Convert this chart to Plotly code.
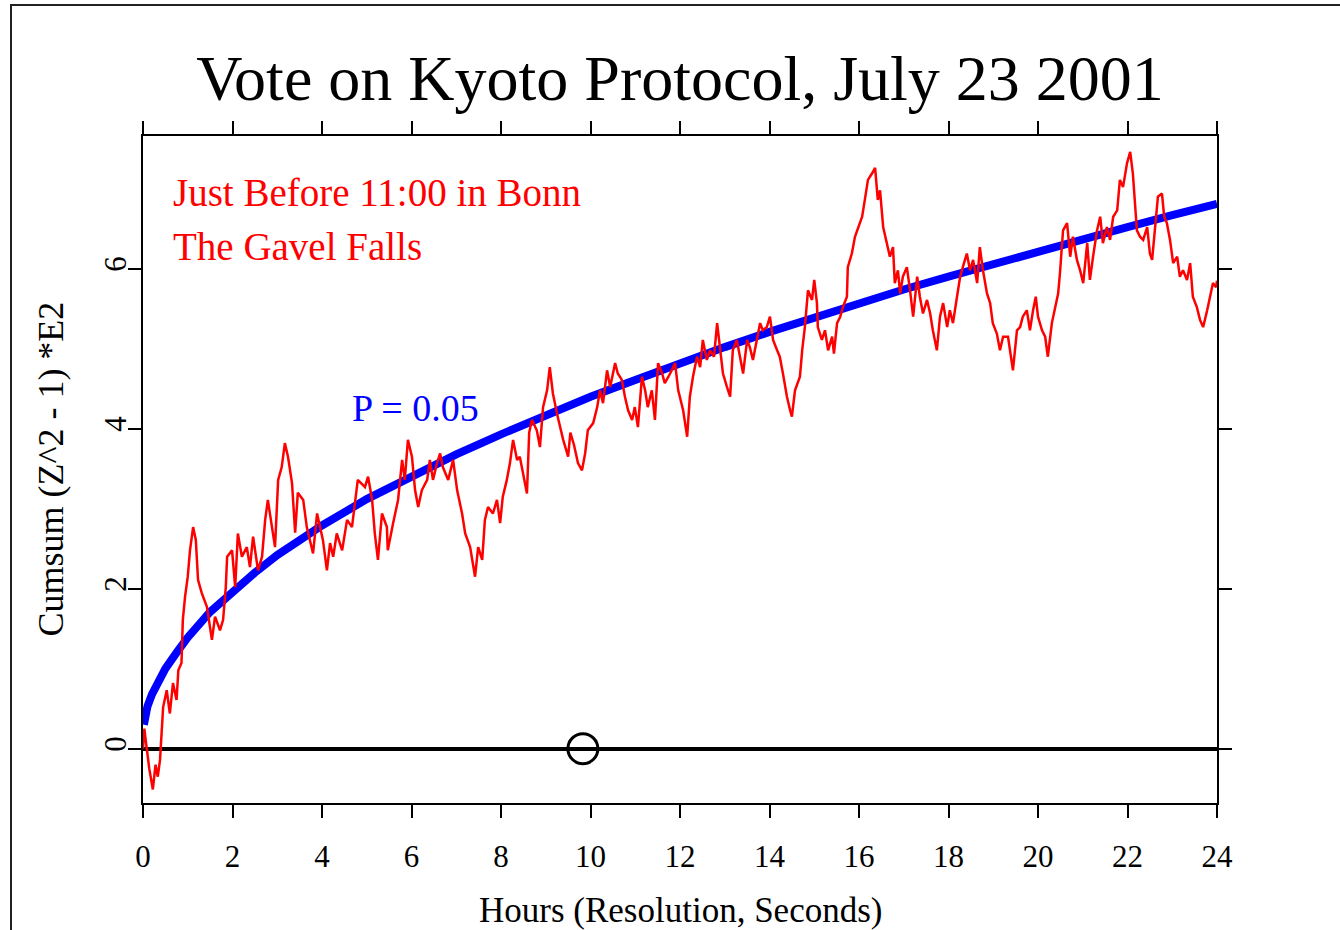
import plotly.graph_objects as go

# ---- data ----
hours = [0, 0.03, 0.08, 0.14, 0.22, 0.28, 0.33, 0.38, 0.45, 0.53, 0.6, 0.67, 0.75, 0.79, 0.86, 0.89, 0.94,
         1.0, 1.05, 1.12, 1.18, 1.23, 1.31, 1.43, 1.54, 1.61, 1.72, 1.79, 1.85, 1.88, 1.99,
         2.06, 2.12, 2.21, 2.32, 2.39, 2.46, 2.57, 2.66, 2.73, 2.79, 2.88, 2.95,
         3.02, 3.1, 3.17, 3.24, 3.33, 3.4, 3.46, 3.58, 3.66, 3.73, 3.8, 3.89, 3.96,
         4.02, 4.11, 4.18, 4.25, 4.33, 4.45, 4.56, 4.67, 4.74, 4.8, 4.96,
         5.03, 5.12, 5.18, 5.25, 5.34, 5.45, 5.47, 5.59, 5.7, 5.79, 5.85, 5.92,
         6.01, 6.08, 6.15, 6.23, 6.35, 6.41, 6.48, 6.57, 6.64, 6.7, 6.82, 6.93,
         7.02, 7.13, 7.2, 7.31, 7.42, 7.49, 7.58, 7.64, 7.71, 7.82, 7.91, 7.98,
         8.04, 8.13, 8.2, 8.27, 8.36, 8.42, 8.49, 8.58, 8.63, 8.69, 8.8, 8.87, 8.94,
         9.03, 9.09, 9.16, 9.25, 9.32, 9.39, 9.5, 9.55, 9.63, 9.72, 9.81, 9.88, 9.94,
         10.06, 10.15, 10.21, 10.28, 10.37, 10.44, 10.55, 10.61, 10.7, 10.77, 10.84, 10.93, 10.99,
         11.06, 11.15, 11.22, 11.28, 11.37, 11.44, 11.51, 11.6, 11.66, 11.78, 11.89, 11.96,
         12.07, 12.16, 12.22, 12.29, 12.38, 12.45, 12.51, 12.6, 12.67, 12.76, 12.83, 12.89, 12.96,
         13.05, 13.12, 13.18, 13.27, 13.34, 13.41, 13.5, 13.56, 13.63, 13.72, 13.79, 13.85, 13.94,
         14.01, 14.08, 14.17, 14.23, 14.3, 14.39, 14.46, 14.5, 14.57, 14.68, 14.73, 14.79, 14.86, 14.95,
         15.0, 15.06, 15.08, 15.17, 15.24, 15.31, 15.4, 15.44, 15.51, 15.58, 15.64, 15.73, 15.75, 15.84, 15.91, 15.98,
         16.07, 16.13, 16.2, 16.29, 16.36, 16.42, 16.47, 16.54, 16.63, 16.69, 16.76, 16.8, 16.87, 16.92, 16.98,
         17.07, 17.14, 17.21, 17.3, 17.36, 17.43, 17.52, 17.59, 17.65, 17.74, 17.81, 17.88, 17.97,
         18.03, 18.1, 18.19, 18.26, 18.32, 18.41, 18.48, 18.55, 18.64, 18.7, 18.77, 18.86, 18.93, 18.99,
         19.08, 19.15, 19.22, 19.33, 19.44, 19.53, 19.6, 19.66, 19.75, 19.82, 19.89, 19.95,
         20.0, 20.09, 20.16, 20.22, 20.31, 20.38, 20.45, 20.49, 20.56, 20.65, 20.72, 20.78, 20.87, 20.94,
         21.01, 21.1, 21.16, 21.23, 21.32, 21.39, 21.45, 21.54, 21.61, 21.68, 21.77, 21.83, 21.9, 21.99,
         22.06, 22.12, 22.17, 22.21, 22.28, 22.35, 22.44, 22.5, 22.55, 22.61, 22.68, 22.77, 22.82, 22.88, 22.95,
         23.02, 23.11, 23.17, 23.24, 23.33, 23.4, 23.46, 23.55, 23.62, 23.69, 23.78, 23.84, 23.91, 23.98, 24.0]

cumsum = [0, 0.25, 0.02, -0.25, -0.51, -0.2, -0.35, -0.14, 0.52, 0.73, 0.44, 0.82, 0.61, 0.98, 1.07, 1.61, 1.9,
          2.15, 2.48, 2.77, 2.61, 2.11, 1.95, 1.77, 1.36, 1.65, 1.48, 1.61, 2.02, 2.4, 2.48,
          2.02, 2.69, 2.4, 2.52, 2.27, 2.65, 2.23, 2.4, 2.86, 3.11, 2.77, 2.52,
          3.36, 3.52, 3.82, 3.65, 3.32, 2.7, 3.2, 3.11, 2.77, 2.61, 2.44, 2.94, 2.77,
          2.61, 2.23, 2.57, 2.4, 2.69, 2.48, 2.86, 2.77, 3.11, 3.36, 3.27,
          3.4, 3.11, 2.69, 2.36, 2.94, 2.77, 2.48, 2.82, 3.11, 3.61, 3.36, 3.86,
          3.65, 3.23, 3.02, 3.23, 3.36, 3.61, 3.36, 3.57, 3.69, 3.52, 3.36, 3.61,
          3.23, 2.94, 2.69, 2.52, 2.15, 2.52, 2.36, 2.86, 3.02, 2.94, 3.11, 2.82,
          3.15, 3.36, 3.57, 3.86, 3.61, 3.65, 3.44, 3.19, 3.95, 4.11, 3.98, 3.77, 4.27,
          4.48, 4.77, 4.44, 4.19, 4.02, 3.86, 3.65, 3.95, 3.8, 3.57, 3.48, 3.69, 3.98,
          4.07, 4.27, 4.48, 4.32, 4.73, 4.52, 4.82, 4.69, 4.61, 4.4, 4.23, 4.11, 4.27,
          4.02, 4.65, 4.48, 4.27, 4.48, 4.11, 4.82, 4.69, 4.57, 4.69, 4.82, 4.48,
          4.23, 3.9, 4.4, 4.65, 4.9, 4.77, 5.11, 4.86, 4.98, 4.9, 5.32, 5.02, 4.69,
          4.52, 4.4, 4.98, 5.11, 4.9, 4.69, 5.11, 5.02, 4.86, 5.11, 5.32, 5.23, 5.27,
          5.4, 5.11, 4.98, 4.9, 4.69, 4.4, 4.23, 4.15, 4.48, 4.65, 4.98, 5.27, 5.73, 5.61,
          5.86, 5.57, 5.27, 5.11, 5.23, 4.98, 5.15, 4.94, 5.32, 5.4, 5.52, 5.65, 6.02, 6.19, 6.4, 6.52,
          6.65, 6.86, 7.11, 7.19, 7.26, 6.86, 6.98, 6.52, 6.32, 6.15, 6.27, 5.82, 5.98, 5.69, 5.9,
          6.02, 5.73, 5.4, 5.9, 5.65, 5.44, 5.61, 5.44, 5.23, 4.98, 5.4, 5.57, 5.27,
          5.48, 5.32, 5.65, 5.9, 6.02, 6.19, 5.98, 6.11, 5.82, 6.27, 5.98, 5.69, 5.57, 5.32,
          5.19, 4.98, 5.15, 5.15, 4.73, 5.23, 5.27, 5.4, 5.48, 5.23, 5.48, 5.65,
          5.4, 5.23, 5.15, 4.9, 5.32, 5.52, 5.69, 5.94, 6.48, 6.57, 6.15, 6.4, 6.11, 5.98,
          5.82, 6.32, 5.86, 6.15, 6.48, 6.65, 6.32, 6.52, 6.36, 6.65, 6.73, 7.11, 7.02, 7.32,
          7.46, 7.19, 6.82, 6.48, 6.4, 6.36, 6.52, 6.19, 6.11, 6.52, 6.9, 6.94, 6.65, 6.57, 6.36,
          6.07, 6.15, 5.9, 5.98, 5.86, 6.07, 5.65, 5.52, 5.36, 5.27, 5.48, 5.65, 5.82, 5.77, 5.85]

p05_hours = [0.02, 0.05, 0.1, 0.2, 0.3, 0.5, 0.75, 1, 1.5, 2, 2.5, 3, 3.5, 4, 5, 6, 7, 8, 9, 10, 11, 12,
             13, 14, 15, 16, 17, 18, 19, 20, 21, 22, 23, 24]
p05_values = [0.3, 0.42, 0.53, 0.68, 0.8, 1.0, 1.2, 1.39, 1.71, 1.97, 2.2, 2.42, 2.62, 2.79, 3.12, 3.41, 3.68,
              3.93, 4.17, 4.4, 4.61, 4.82, 5.02, 5.21, 5.39, 5.57, 5.74, 5.9, 6.06, 6.22, 6.37,
              6.52, 6.67, 6.81]

event_hour = [9.83]
event_value = [0]

x_ticks = [0, 2, 4, 6, 8, 10, 12, 14, 16, 18, 20, 22, 24]
y_ticks = [0, 2, 4, 6]

SERIF = "Liberation Serif"

fig = go.Figure()
fig.add_trace(go.Scatter(x=p05_hours, y=p05_values, mode="lines",
                         line=dict(color="#0000ff", width=8), hoverinfo="skip"))
fig.add_trace(go.Scatter(x=hours, y=cumsum, mode="lines",
                         line=dict(color="#ff0000", width=2.5)))
fig.add_trace(go.Scatter(x=event_hour, y=event_value, mode="markers",
                         marker=dict(symbol="circle-open", size=30,
                                     color="black", line=dict(color="black", width=3))))

fig.update_layout(
    width=1340, height=930, autosize=False,
    margin=dict(l=143, r=123, t=136, b=127),
    paper_bgcolor="white", plot_bgcolor="white",
    showlegend=False,
    font=dict(family=SERIF, color="black"),
    title=dict(text="Vote on Kyoto Protocol, July 23 2001",
               font=dict(family=SERIF, size=64, color="black"),
               x=0.5, xref="paper", xanchor="center",
               y=1 - 78 / 930, yref="container", yanchor="middle"),
    xaxis=dict(range=[0, 24], tickvals=x_ticks, ticktext=[str(v) for v in x_ticks],
               showgrid=False, zeroline=False,
               showline=True, linecolor="black", linewidth=2, mirror="ticks",
               ticks="outside", ticklen=13, tickwidth=2, tickcolor="black",
               tickfont=dict(family=SERIF, size=31, color="black"),
               ticklabelstandoff=12),
    yaxis=dict(range=[-0.679, 7.659], tickvals=y_ticks, ticktext=[str(v) for v in y_ticks],
               showgrid=False, zeroline=True, zerolinecolor="black", zerolinewidth=4,
               showline=True, linecolor="black", linewidth=2, mirror="ticks",
               ticks="outside", ticklen=13, tickwidth=2, tickcolor="black",
               tickangle=-90,
               tickfont=dict(family=SERIF, size=31, color="black"),
               ticklabelstandoff=-10),
    annotations=[
        dict(text="Just Before 11:00 in Bonn", x=0.62, y=6.95, xref="x", yref="y",
             xanchor="left", yanchor="middle", showarrow=False,
             font=dict(family=SERIF, size=39, color="#ff0000")),
        dict(text="The Gavel Falls", x=0.62, y=6.28, xref="x", yref="y",
             xanchor="left", yanchor="middle", showarrow=False,
             font=dict(family=SERIF, size=39, color="#ff0000")),
        dict(text="P = 0.05", x=6.1, y=4.26, xref="x", yref="y",
             xanchor="center", yanchor="middle", showarrow=False,
             font=dict(family=SERIF, size=38, color="#0000ff")),
        dict(text="Hours (Resolution, Seconds)", x=0.5, y=-(910 - 803) / 667,
             xref="paper", yref="paper", xanchor="center", yanchor="middle",
             showarrow=False, font=dict(family=SERIF, size=35, color="black")),
        dict(text="Cumsum (Z^2 - 1) *E2", x=(50 - 143) / 1074, y=0.5,
             xref="paper", yref="paper", xanchor="center", yanchor="middle",
             textangle=-90, showarrow=False,
             font=dict(family=SERIF, size=36, color="black")),
    ],
    shapes=[
        dict(type="rect", xref="paper", yref="paper",
             x0=(11 - 143) / 1074, x1=(1350 - 143) / 1074,
             y0=-(940 - 803) / 667, y1=1 + (136 - 5) / 667,
             line=dict(color="#222222", width=2), fillcolor="rgba(0,0,0,0)", layer="below"),
    ],
)

fig.write_html("out.html", config={"displayModeBar": False},
               post_script="document.body.style.margin='0';document.body.style.overflow='hidden';")
